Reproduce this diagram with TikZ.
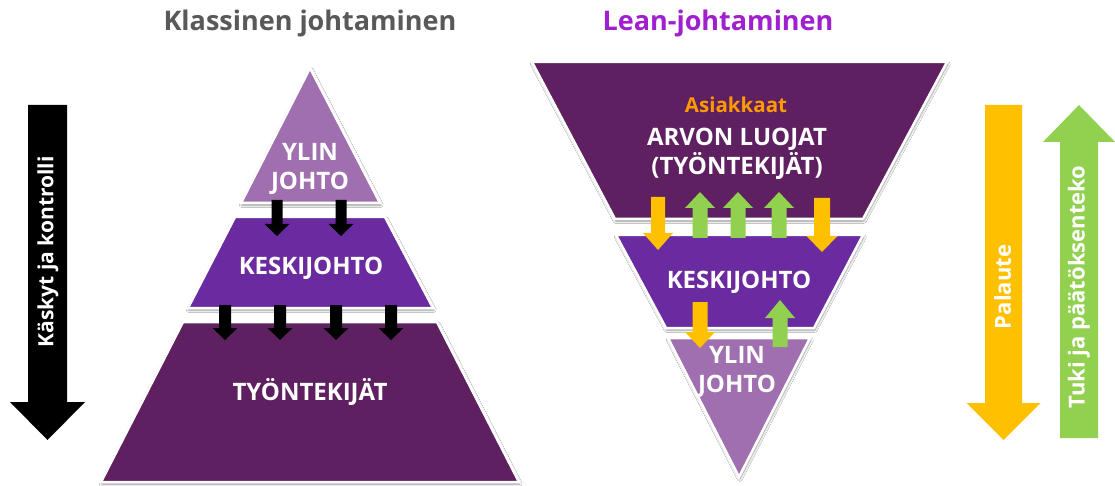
\documentclass[tikz,border=0pt]{standalone}
\usepackage{fontspec}
\setmainfont{Open Sans}
\usetikzlibrary{shadows,shadows.blur}

\definecolor{toplight}{RGB}{159,111,175}
\definecolor{midviolet}{RGB}{106,43,160}
\definecolor{deepplum}{RGB}{94,32,96}
\definecolor{titlegray}{RGB}{89,89,89}
\definecolor{titleviolet}{RGB}{160,32,208}
\definecolor{amber}{RGB}{255,192,0}
\definecolor{leafgreen}{RGB}{146,208,80}
\definecolor{custorange}{RGB}{255,153,0}

\tikzset{
  band/.style={draw=white, line width=2.5pt, line join=miter,
    blur shadow={shadow xshift=0.8pt, shadow yshift=-2pt, shadow blur radius=2.5pt,
      shadow blur steps=6, shadow opacity=45}},
  bandtext/.style={text=white, font=\bfseries\fontsize{24}{28.5}\selectfont, align=center, inner sep=0pt},
  headtext/.style={font=\bfseries\fontsize{27}{30}\selectfont, inner sep=0pt},
  sidetext/.style={text=white, font=\bfseries\fontsize{22}{26}\selectfont, inner sep=0pt, rotate=90},
}

% block arrow: colour, centre x, tail y, head base y, tip y, shaft width, head width
\newcommand\blockarr[7]{%
  \fill[#1] ({#2-#6/2},#3) -- ({#2+#6/2},#3) -- ({#2+#6/2},#4) -- ({#2+#7/2},#4)
    -- (#2,#5) -- ({#2-#7/2},#4) -- ({#2-#6/2},#4) -- cycle;}

\begin{document}
\begin{tikzpicture}[x=1pt, y=-1pt]
\useasboundingbox[fill=white] (0,0) rectangle (1115,486);

% ---------- classic pyramid ----------
\node[headtext, text=titlegray] (ctitle) at (310,23) {Klassinen johtaminen};

\filldraw[band, fill=deepplum] (183,322) -- (437,322) -- (519,482) -- (101,482) -- cycle;
\filldraw[band, fill=midviolet] (235,217) -- (385,217) -- (433,308) -- (188,308) -- cycle;
\filldraw[band, fill=toplight] (310,68) -- (380,203) -- (241,203) -- cycle;

\node[bandtext] (ctop) at (310,169) {YLIN\\JOHTO};
\node[bandtext] (cmid) at (311,268) {KESKIJOHTO};
\node[bandtext] (cbot) at (310,392) {TYÖNTEKIJÄT};

\foreach \cx in {277,341} {\blockarr{black}{\cx}{200}{224}{236}{11}{25}}
\foreach \cx in {225,280,336,391} {\blockarr{black}{\cx}{305}{328}{340}{12}{25}}

\blockarr{black}{47.5}{105}{402}{440}{39}{75}
\node[sidetext, font=\bfseries\fontsize{21}{25}\selectfont] (cside) at (48,252) {Käskyt ja kontrolli};

% ---------- lean pyramid ----------
\node[headtext, text=titleviolet] (ltitle) at (718,23) {Lean-johtaminen};

\filldraw[band, fill=toplight] (668,338) -- (810,338) -- (739,477) -- cycle;
\filldraw[band, fill=midviolet] (616,235) -- (863,235) -- (814,328) -- (666,328) -- cycle;
\filldraw[band, fill=deepplum] (532,62) -- (947,62) -- (863,219) -- (615,219) -- cycle;

\node[text=custorange, font=\bfseries\fontsize{20.5}{24}\selectfont, inner sep=0pt] (lcust) at (736,105) {Asiakkaat};
\node[bandtext] (ltop) at (737,154) {ARVON LUOJAT\\(TYÖNTEKIJÄT)};
\node[bandtext] (lmid) at (739,282) {KESKIJOHTO};
\node[bandtext] (lbot) at (737,372) {YLIN\\JOHTO};

\blockarr{amber}{658}{197}{233}{250}{14}{30}
\foreach \cx in {700,738,779} {\blockarr{leafgreen}{\cx}{238}{208}{192}{15}{30}}
\blockarr{amber}{822}{198}{236}{252}{16}{31}
\blockarr{amber}{700}{302}{332}{348}{15}{30}
\blockarr{leafgreen}{780}{347}{318}{300}{15}{30}

\blockarr{amber}{1003.5}{105}{403}{440}{37}{74}
\blockarr{leafgreen}{1079}{438}{142}{105}{38}{72}
\node[sidetext] (lfeed) at (1002.5,287) {Palaute};
\node[sidetext] (lsupp) at (1079,287) {Tuki ja päätöksenteko};
\end{tikzpicture}
\end{document}
